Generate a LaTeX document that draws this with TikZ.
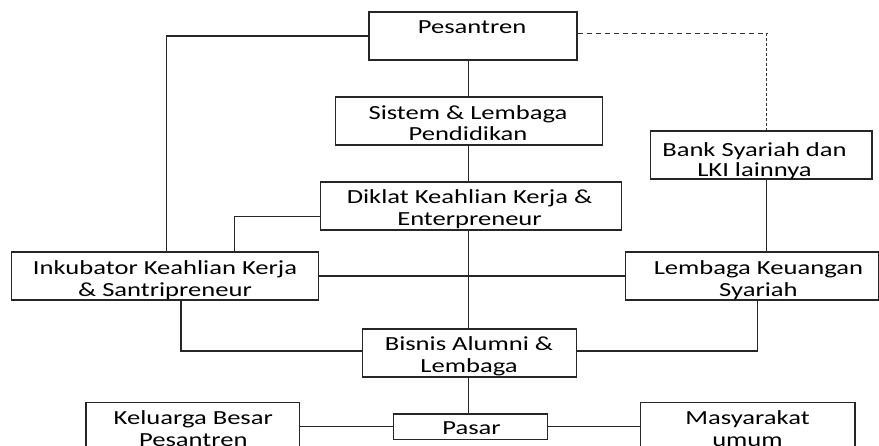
\documentclass[tikz,border=0pt]{standalone}
\usepackage{fontspec}
\setmainfont{Carlito}[FakeStretch=1.33]
\newcommand{\twol}[2]{\begin{tabular}[t]{@{}c@{}}#1\\#2\end{tabular}}
\tikzset{
  box/.style={draw=black!85, line width=1.3pt, inner sep=0pt, minimum height=48pt},
  txt/.style={inner sep=0pt, anchor=base},
  conn/.style={draw=black!85, line width=1.3pt},
  dconnh/.style={draw=black!80, line width=1.1pt, dash pattern=on 5.5pt off 3.5pt},
  dconnv/.style={draw=black!80, line width=1.1pt, dash pattern=on 3pt off 2pt}
}
\newcommand{\fs}[1]{\fontsize{20}{#1}\selectfont}
\begin{document}
\begin{tikzpicture}[x=1pt,y=-1pt]
\useasboundingbox (0,0) rectangle (879,446);
\clip (0,0) rectangle (879,446);
% boxes
\node[box, minimum width=208pt] (pes) at (473,36) {};
\node[box, minimum width=267pt] (sis) at (468.8,121) {};
\node[box, minimum width=301pt] (dik) at (471.2,206) {};
\node[box, minimum width=306.6pt] (ink) at (165,276) {};
\node[box, minimum width=253.4pt] (lku) at (752,276) {};
\node[box, minimum width=221.3pt] (bank) at (761.3,155) {};
\node[box, minimum width=214.4pt] (bis) at (469.5,353) {};
\node[box, minimum width=153.6pt, minimum height=25.3pt] (pasar) at (470.5,426.7) {};
\node[box, minimum width=213.3pt] (kel) at (192.7,426.7) {};
\node[box, minimum width=214.3pt] (mas) at (747.8,426.7) {};
% texts
\node[txt, font=\fs{23}] (pesT) at (472,34) {Pesantren};
\node[txt, font=\fs{21.4}] (sisT) at (468,119.3) {\twol{Sistem \& Lembaga}{Pendidikan}};
\node[txt, font=\fs{22}] (dikT) at (469.5,204) {\twol{Diklat Keahlian Kerja \&}{Enterpreneur}};
\node[txt, font=\fs{22.4}] (inkT) at (165,274.3) {\twol{Inkubator Keahlian Kerja}{\& Santripreneur}};
\node[txt, font=\fs{22.4}] (lkuT) at (758.4,274.3) {\twol{Lembaga Keuangan}{Syariah}};
\node[txt, font=\fs{19.3}] (bankT) at (754.5,156.7) {\twol{Bank Syariah dan}{LKI lainnya}};
\node[txt, font=\fs{22}] (bisT) at (469,350.7) {\twol{Bisnis Alumni \&}{Lembaga}};
\node[txt, font=\fs{22}] (pasarT) at (471.5,435) {Pasar};
\node[txt, font=\fs{22}] (kelT) at (193.3,425) {\twol{Keluarga Besar}{Pesantren}};
\node[txt, font=\fs{22}] (masT) at (747.5,425) {\twol{Masyarakat}{umum}};
% connectors
\coordinate (pl) at (166.7,36);
\coordinate (dk) at (234.3,216.7);
\coordinate (bk) at (766.7,33.3);
\coordinate (ib) at (181,351);
\coordinate (lb) at (757.7,351);
\draw[conn] (sis.north) -- (sis.north |- pes.south);
\draw[conn] (sis.south) -- (sis.south |- dik.north);
\draw[conn] (dik.south -| sis.south) -- (bis.north -| sis.south);
\draw[conn] (bis.south -| sis.south) -- (pasar.north -| sis.south);
\draw[conn] (pes.west) -- (pl) -- (pl |- ink.north);
\draw[conn] (dik.west |- dk) -- (dk) -- (dk |- ink.north);
\draw[conn] (ink.east) -- (lku.west);
\draw[dconnh] (pes.east |- bk) -- (bk);
\draw[dconnv] (bk) -- (bk |- bank.north);
\draw[conn] (bank.south -| bk) -- (lku.north -| bk);
\draw[conn] (ink.south -| ib) -- (ib) -- (bis.west |- ib);
\draw[conn] (lku.south -| lb) -- (lb) -- (bis.east |- lb);
\draw[conn] (kel.east) -- (pasar.west);
\draw[conn] (pasar.east) -- (mas.west);
\end{tikzpicture}
\end{document}
